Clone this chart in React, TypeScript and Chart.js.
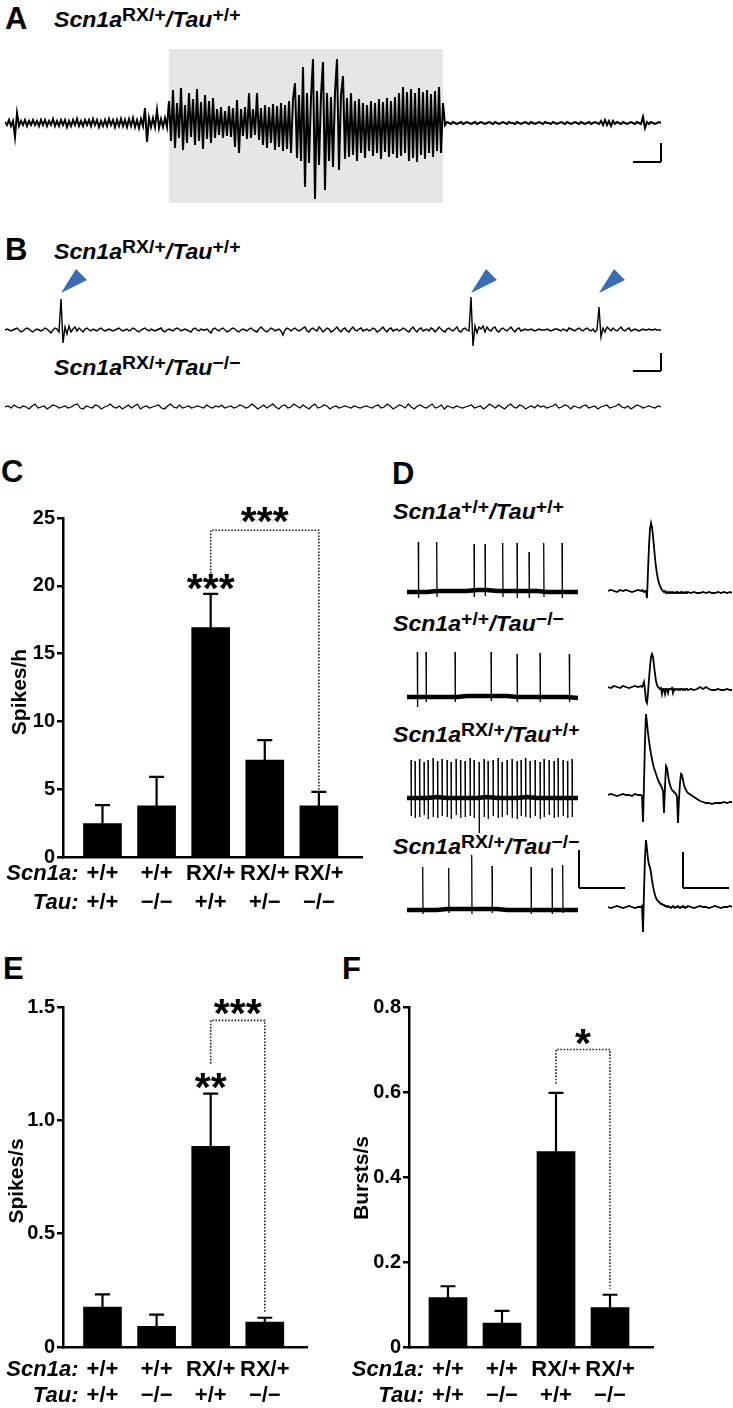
import React, { useEffect, useRef } from 'react';
import { Chart, registerables } from 'chart.js';
Chart.register(...registerables);

const FONT = '"Liberation Sans", Arial, Helvetica, sans-serif';

// ---------- Panel A: EEG trace (sample index, amplitude) ----------
const eegA = [
  1,-2,3,-3,2,-14,10,-3,2,-2,3,-3,2,-2,3,-2,2,-3,3,-2,
  3,-3,2,-2,4,-3,2,-3,3,-2,3,-4,2,-3,3,-2,4,-3,2,-3,
  3,-2,3,-3,4,-2,3,-4,2,-3,3,-3,4,-2,3,-4,3,-3,4,-3,
  3,-4,4,-3,5,-4,3,-5,4,-3,15,-19,5,-4,5,-4,13,-5,4,-4,
  5,-4,
  22,-18,33,-25,20,-15,35,-27,18,-20,30,-14,24,-22,34,-18,21,-26,28,-16,22,-20,25,-15,
  14,-12,16,-15,12,-13,17,-14,15,-24,23,-30,14,-13,16,-16,30,-15,14,-12,30,-17,15,
  -22,18,-25,16,-20,19,-27,17,-24,20,-28,18,-26,22,-30,24,40,-35,
  28,-38,56,-64,30,-40,25,64,-76,32,-42,28,61,-67,30,-38,26,-44,30,64,-47,28,47,-36,
  25,-34,30,-32,22,-38,24,-30,20,-35,18,-28,22,-33,20,-30,24,-36,21,-29,25,-34,22,-31,26,-35,
  30,-33,36,-30,31,-38,34,-35,30,-39,35,-32,31,-36,33,-30,29,-34,32,-28,36,-30,20,
  -2,1,0,-1,1,0,-1,0,1,-1, 0,1,0,-1,0,1,-1,0,1,0, -1,0,1,0,-1,1,0,-1,0,1,
  0,-1,1,0,0,-1,1,0,-1,0, 1,0,-1,1,0,-1,0,1,0,-1, 1,0,0,-1,1,0,-1,0,1,0,
  -1,1,0,-1,0,1,0,-1,1,0, -1,0,1,-1,0,1,0,-1,2,-2, 3,-2,2,-3,2,-1,1,0,-1,1,
  0,-1,0,1,0,-1,1,0,-1,6, -5,1,-1,1,0,-1,0,1,0,
];
const seizureStart = 82;
const seizureEnd = 219;

// ---------- Panel B: interictal traces ----------
const eegB1 = [
  0,1,0,-1,0,1,2,0,-2,-1, 1,2,1,-1,-2,0,1,0,-1,0, 2,1,-1,-3,0,2,1,-2,31,-13,
  3,-4,4,-2,1,3,-1,2,0,-2, 1,2,0,-1,1,0,-1,1,2,0, -1,0,1,0,-1,0,1,2,0,-1,
  0,1,-1,0,2,1,-1,-2,0,1, 2,0,-1,1,0,-1,0,1,2,-1, -2,0,1,0,-1,1,2,1,-1,0,
  1,0,-1,-2,1,2,0,-1,1,0, 0,1,-1,-3,1,2,0,-1,1,2, 0,-2,-1,1,2,1,-1,-2,0,1,
  0,-1,1,2,0,-1,-2,1,3,1, -1,-2,0,2,1,-1,0,1,-1,-5, 0,2,1,-1,1,2,0,-1,0,2,
  3,-1,-2,1,2,0,-1,3,1,-2, 0,2,1,-2,-1,1,3,0,-2,1, 2,-1,-2,1,3,0,-1,1,2,-1,
  0,1,-1,0,2,1,-2,-1,1,3, 0,-2,1,2,-1,0,1,-1,0,2, 1,-1,-2,1,3,0,-2,1,2,-1,
  0,1,-1,2,1,-2,0,3,1,-1, -2,1,2,0,-1,1,3,-1,-2,1, 2,0,-1,33,-16,4,-3,3,1,4,
  -2,3,0,-1,2,3,-1,-2,1,2, 0,-1,1,3,0,-2,1,2,-1,0, 1,0,0,1,0,-1,0,1,0,0,
  0,1,0,-1,0,1,1,0,-1,1, 0,-1,2,1,0,-1,1,2,0,-1, 1,2,0,-1,1,-2,0,23,-7,2,
  -2,3,1,-1,2,0,-1,1,3,0, -1,1,2,-1,0,1,0,-1,0,1, 0,0,1,0,0,1,0,0,0,
];
const spikesB1 = [28, 233, 297];
const eegB2 = [
  0,1,-1,2,0,-1,1,0,-2,1,3,-1,0,1,-2,0,2,1,-1,0,
  1,-1,0,2,3,-1,-2,1,0,-1,2,1,-2,0,1,3,0,-1,1,-2,
  0,2,-1,1,3,-2,0,1,-1,0,1,2,-1,-2,1,3,0,-1,2,-1,
  0,1,-1,0,1,0,-1,2,0,-1,1,0,2,-1,0,1,-1,0,2,1,
  -1,0,3,1,-2,0,2,-1,1,3,0,-2,1,2,-1,0,3,1,-1,2,
  0,-2,1,3,-1,0,2,1,-2,0,1,-1,0,1,0,-1,1,0,-1,0,
  1,0,-1,1,2,-1,0,3,1,-2,0,2,1,-1,3,0,-2,1,2,0,
  -1,1,3,-1,0,2,-2,1,0,-1,1,0,-1,0,1,2,-1,0,1,-2,
  0,3,1,-1,2,0,-2,1,3,0,-1,2,1,-2,0,1,-1,2,0,1,
  -1,0,1,3,-1,0,2,1,-2,1,0,-1,1,2,-1,0,1,-2,0,1,
  2,-1,0,1,3,0,-1,1,-2,0,2,1,-1,0,1,0,-1,1,0,
];

// ---------- Panel C ----------
const scn1aC = ['+/+', '+/+', 'RX/+', 'RX/+', 'RX/+'];
const tauC = ['+/+', '\u2212/\u2212', '+/+', '+/\u2212', '\u2212/\u2212'];
const spikesPerHour = [2.46, 3.77, 16.92, 7.14, 3.77];
const spikesPerHourSem = [1.36, 2.14, 2.49, 1.48, 1.03];

// ---------- Panel D: firing traces ----------
const dBaseT = [0, 10, 20, 30, 40, 50, 60, 70, 80, 90, 100, 110, 120, 130, 140, 150, 160, 171];
const dBase1 = [0, 0, 0, 1, 1, 1, 1, 2, 2, 1, 1, 1, 1, 1, 0, 0, 0, 0];
const dBase2 = [0, 0, 0, 0, 0, 0, 1, 1, 1, 1, 1, 0, 0, 0, 0, 0, 0, -1];
const dBase3 = [0, 0, 0, 1, 0, 0, 0, 0, 1, 0, 0, 0, 1, 0, 0, 0, 0, 0];
const dBase4 = [0, 0, 0, 0, 1, 1, 1, 1, 1, 1, 0, 0, 0, 0, 0, 0, 0, 0];
const dSpikeT1 = [11.3, 29.7, 67, 78, 95.7, 110, 122, 136.7, 155];
const dSpikeUp1 = [50, 50, 48, 48, 49, 49, 40, 49, 49];
const dSpikeDown1 = [-6, -5, -5, -4, -5, -6, -6, -5, -6];
const dSpikeT2 = [10.3, 19, 48, 84, 110, 133, 162.3];
const dSpikeUp2 = [45, 45, 45, 45, 43, 44, 43];
const dSpikeDown2 = [-10, -5, -5, -4, -5, -5, -5];
const dSpikeT3 = [4, 8, 12.5, 17, 21, 26, 30.5, 35, 40, 44, 49, 53.5, 58, 63, 67, 72, 77, 81, 86, 91, 95, 100, 105, 110, 114, 118.5, 123, 128, 133, 137, 142, 147, 151, 156, 160.5, 165];
const dSpikeUp3 = [38, 37, 39, 36, 38, 40, 37, 39, 38, 36, 39, 38, 37, 40, 38, 36, 39, 37, 38, 40, 36, 38, 39, 37, 38, 40, 37, 38, 36, 39, 38, 37, 40, 38, 37, 39];
const dSpikeDown3 = [-18, -20, -19, -17, -21, -19, -20, -18, -19, -21, -17, -20, -19, -18, -20, -35, -19, -21, -18, -20, -19, -17, -20, -21, -18, -19, -20, -18, -21, -19, -17, -20, -19, -18, -20, -19];
const dSpikeT4 = [15.7, 41.7, 64.7, 85, 124, 145, 155.7];
const dSpikeUp4 = [43, 42, 55, 44, 43, 42, 45];
const dSpikeDown4 = [-4, -3, -4, -3, -4, -4, -3];

const apT = [0,3,6,9,12,15,18,21,24,27,30,33,34,35,36,37,38,39,40,41,42,43,44,45,46,47,48,49,50,51,52,53,54,55,56,57,58,59,60,61,62,63,64,65,66,67,68,69,70,71,72,73,74,75,76,77,78,79,80,83,86,89,92,95,98,101,104,107,110,113,116,119,122,124];
const ap1 = [0,1,0,-1,1,0,1,0,-1,0,1,
  0,1,0,-1,0,0,-7,20,45,62, 68,64,55,44,33,24,17,12,8,5, 3,1,0,-1,0,-2,-1,-2,-1,-2, -1,-2,-1,-2,-2,-1,-2,-1,-2,-2, -1,-2,-1,-2,-2,-1,-2,-1,
  -2,-1,-2,-2,-1,-2,-1,-2,-2,-1,-2,-1,-2,-1,-2];
const ap2 = [0,-1,1,0,-1,1,0,-1,0,1,0,
  1,0,2,5,-3,-14,-16,-6,8,20, 30,33,30,22,13,6,2,0,-1,-2, -1,-7,-2,-2,-7,-2,-2,-6,-2,-2, -2,-1,-6,-2,-3,-2,-2,-3,-2,-3, -2,-2,-3,-2,-3,-2,-2,-3,
  -2,-3,-2,0,-2,0,-2,-3,-3,-2,-3,-3,-2,-3,-3];
const ap3 = [0,1,0,-1,0,1,0,0,-1,1,0,
  0,-1,-27,12,55,81,72,62,54,47, 41,36,31,27,24,21,18,15,13,11, 9,7,4,-18,8,29,27,20,14,10, 7,5,4,3,2,1,-2,-28,-4,12, 21,20,15,10,7,5,3,2,
  0,-2,-4,-6,-7,-8,-8,-9,-8,-8,-8,-7,-8,-7,-7];
const ap4 = [0,-1,0,1,0,-1,0,1,0,-1,0,
  0,1,-25,15,50,67,58,48,42,40, 34,27,21,16,12,9,7,6,5,4, 3,3,2,2,1,1,0,1,0,0, -1,0,1,0,-1,0,0,1,0,-1, 0,0,1,0,-1,0,0,1,
  0,-1,0,1,0,0,-1,0,1,0,-1,0,0,1,0];

// ---------- Panels E, F ----------
const scn1aEF = ['+/+', '+/+', 'RX/+', 'RX/+'];
const tauEF = ['+/+', '\u2212/\u2212', '+/+', '\u2212/\u2212'];
const spikesPerSec = [0.176, 0.091, 0.885, 0.110];
const spikesPerSecSem = [0.056, 0.052, 0.233, 0.019];
const burstsPerSec = [0.116, 0.056, 0.460, 0.093];
const burstsPerSecSem = [0.027, 0.029, 0.138, 0.030];

// ---------- helpers ----------
type Cfg = any;

function ChartBox({ left, top, width, height, make }: { left: number; top: number; width: number; height: number; make: () => Cfg }) {
  const ref = useRef<HTMLCanvasElement>(null);
  useEffect(() => {
    const chart = new Chart(ref.current as HTMLCanvasElement, make());
    return () => chart.destroy();
  }, []);
  return (
    <canvas
      ref={ref}
      width={width}
      height={height}
      style={{ position: 'absolute', left, top, width, height }}
    />
  );
}

function lineSet(points: any[], width: number) {
  return {
    data: points,
    borderColor: '#000',
    borderWidth: width,
    pointRadius: 0,
    tension: 0,
    spanGaps: false,
    fill: false,
  };
}

function scaleBar(opts: { xv: number; x0: number; x1: number; y0: number; y1: number }) {
  return {
    id: 'scaleBar',
    afterDraw(chart: any) {
      const { ctx, scales } = chart;
      const X = (v: number) => scales.x.getPixelForValue(v);
      const Y = (v: number) => scales.y.getPixelForValue(v);
      ctx.save();
      ctx.strokeStyle = '#000';
      ctx.lineWidth = 2;
      ctx.beginPath();
      ctx.moveTo(X(opts.xv), Y(opts.y1));
      ctx.lineTo(X(opts.xv), Y(opts.y0));
      ctx.moveTo(X(opts.x0), Y(opts.y0));
      ctx.lineTo(X(opts.x1), Y(opts.y0));
      ctx.stroke();
      ctx.restore();
    },
  };
}

function traceConfig(datasets: any[], x: [number, number], y: [number, number], pad: any, plugins: any[] = []): Cfg {
  return {
    type: 'line',
    data: { datasets },
    options: {
      animation: false,
      responsive: false,
      events: [],
      layout: { padding: pad },
      plugins: { legend: { display: false }, tooltip: { enabled: false } },
      scales: {
        x: { type: 'linear', display: false, min: x[0], max: x[1], offset: false },
        y: { type: 'linear', display: false, min: y[0], max: y[1] },
      },
    },
    plugins,
  };
}

const idxPoints = (arr: number[]) => arr.map((v, i) => ({ x: i, y: v }));

function dLeftSets(base: number[], st: number[], up: number[], down: number[]) {
  const spikes: any[] = [];
  st.forEach((t, i) => {
    spikes.push({ x: t, y: up[i] }, { x: t + 0.3, y: down[i] }, { x: t + 0.31, y: null });
  });
  const baseline = dBaseT.map((t, i) => ({ x: t, y: base[i] }));
  return [lineSet(spikes, 1.3), lineSet(baseline, 4.5)];
}

const apSet = (vals: number[]) => [lineSet(apT.map((t, i) => ({ x: t, y: vals[i] })), 1.8)];

type Sig = {
  over: { bar: number; y: number; text: string }[];
  bracket: { from: number; to: number; yFrom: number; yTop: number; yTo: number; text: string; textY: number };
};

function barConfig(p: {
  values: number[]; sems: number[]; scn1a: string[]; tau: string[];
  yMax: number; yStep: number; fmt: (v: number) => string;
  xMin: number; xMax: number; yAxisW: number; pad: any; xAxisH: number;
  title: string; titleX: number; titleY: number; row1: number; row2: number; sig: Sig;
}): Cfg {
  const decor = {
    id: 'decor',
    afterDraw(chart: any) {
      const { ctx, scales } = chart;
      const X = (v: number) => scales.x.getPixelForValue(v);
      const Y = (v: number) => scales.y.getPixelForValue(v);
      ctx.save();
      // error bars
      ctx.strokeStyle = '#000';
      ctx.lineWidth = 2.2;
      p.values.forEach((v, i) => {
        const px = X(i + 1);
        const yb = Y(v);
        const yt = Y(v + p.sems[i]);
        ctx.beginPath();
        ctx.moveTo(px, yb);
        ctx.lineTo(px, yt);
        ctx.moveTo(px - 7.5, yt);
        ctx.lineTo(px + 7.5, yt);
        ctx.stroke();
      });
      // bracket
      const b = p.sig.bracket;
      ctx.save();
      ctx.setLineDash([1.6, 1.6]);
      ctx.lineWidth = 1.6;
      ctx.strokeStyle = '#222';
      ctx.beginPath();
      ctx.moveTo(X(b.from), Y(b.yFrom));
      ctx.lineTo(X(b.from), Y(b.yTop));
      ctx.lineTo(X(b.to), Y(b.yTop));
      ctx.lineTo(X(b.to), Y(b.yTo));
      ctx.stroke();
      ctx.restore();
      // stars
      ctx.fillStyle = '#000';
      ctx.font = `bold 41px ${FONT}`;
      ctx.textAlign = 'center';
      ctx.textBaseline = 'alphabetic';
      const star = (text: string, cx: number, cy: number) => {
        const m = ctx.measureText(text);
        const base = cy + (m.actualBoundingBoxAscent - m.actualBoundingBoxDescent) / 2;
        ctx.fillText(text, cx, base);
      };
      p.sig.over.forEach((s) => star(s.text, X(s.bar), Y(s.y)));
      star(b.text, (X(b.from) + X(b.to)) / 2, Y(b.textY));
      // row labels
      ctx.textBaseline = 'middle';
      ctx.textAlign = 'right';
      ctx.font = `italic bold 22px ${FONT}`;
      const hx = X(1) - 24;
      ctx.fillText('Scn1a:', hx, p.row1);
      ctx.fillText('Tau:', hx, p.row2);
      ctx.textAlign = 'center';
      ctx.font = `bold 22px ${FONT}`;
      p.scn1a.forEach((s, i) => ctx.fillText(s, X(i + 1), p.row1));
      p.tau.forEach((s, i) => ctx.fillText(s, X(i + 1), p.row2));
      // y title
      ctx.translate(p.titleX, p.titleY);
      ctx.rotate(-Math.PI / 2);
      ctx.font = `bold 21px ${FONT}`;
      ctx.fillText(p.title, 0, 0);
      ctx.restore();
    },
  };
  return {
    type: 'bar',
    data: {
      datasets: [
        {
          data: p.values.map((v, i) => ({ x: i + 1, y: v })),
          backgroundColor: '#000',
          borderWidth: 0,
          barThickness: 38,
        },
      ],
    },
    options: {
      animation: false,
      responsive: false,
      events: [],
      layout: { padding: p.pad },
      plugins: { legend: { display: false }, tooltip: { enabled: false } },
      scales: {
        x: {
          type: 'linear',
          min: p.xMin,
          max: p.xMax,
          offset: false,
          grid: { display: false, offset: false },
          ticks: { display: false },
          border: { display: true, color: '#000', width: 2.5 },
          afterFit: (s: any) => { s.height = p.xAxisH; },
        },
        y: {
          type: 'linear',
          min: 0,
          max: p.yMax,
          ticks: {
            stepSize: p.yStep,
            color: '#000',
            padding: 2,
            font: { family: FONT, size: 20, weight: 'bold' },
            callback: (v: number) => p.fmt(v),
          },
          grid: { display: true, drawOnChartArea: false, drawTicks: true, tickLength: 6, color: '#000', lineWidth: 2.5 },
          border: { display: true, color: '#000', width: 2.5 },
          afterFit: (s: any) => { s.width = p.yAxisW; },
        },
      },
    },
    plugins: [decor],
  };
}

const fmt1 = (v: number) => (Math.abs(v) < 1e-9 ? '0' : v.toFixed(1));
const fmt0 = (v: number) => String(Math.round(v));

// ---------- text components ----------
function Letter({ ch, x, baseline }: { ch: string; x: number; baseline: number }) {
  const fs = 31;
  return (
    <div style={{ position: 'absolute', left: x, top: baseline - 0.8465 * fs, fontFamily: FONT, fontWeight: 'bold', fontSize: fs, lineHeight: 1 }}>
      {ch}
    </div>
  );
}

function Geno({ x, baseline, s, t }: { x: number; baseline: number; s: string; t: string }) {
  const fs = 22;
  const sup: React.CSSProperties = { fontSize: 18.5, position: 'relative', top: -6, fontStyle: 'normal' };
  return (
    <div
      style={{
        position: 'absolute', left: x, top: baseline - 0.8465 * fs, fontFamily: FONT, fontWeight: 'bold',
        fontSize: fs, lineHeight: 1, whiteSpace: 'nowrap', transform: 'scaleX(1.05)', transformOrigin: '0 0',
      }}
    >
      <i>Scn1a</i>
      <span style={sup}>{s}</span>
      <i>/Tau</i>
      <span style={sup}>{t}</span>
    </div>
  );
}

const MINUS = '\u2212/\u2212';

export default function App() {
  return (
    <div style={{ position: 'absolute', left: 0, top: 0, width: 733, height: 1408, overflow: 'hidden', background: '#fff' }}>
      {/* Panel A */}
      <Letter ch="A" x={5} baseline={29} />
      <Geno x={54} baseline={28} s="RX/+" t="+/+" />
      <ChartBox
        left={0} top={49} width={733} height={154}
        make={() =>
          traceConfig([lineSet(idxPoints(eegA), 2)], [0, eegA.length - 1], [-80, 74], { left: 5, right: 72, top: 0, bottom: 0 }, [
            {
              id: 'seizureBox',
              beforeDatasetsDraw(chart: any) {
                const { ctx, scales, chartArea } = chart;
                const x0 = scales.x.getPixelForValue(seizureStart);
                const x1 = scales.x.getPixelForValue(seizureEnd);
                ctx.save();
                ctx.fillStyle = '#e6e6e6';
                ctx.fillRect(x0, chartArea.top, x1 - x0, chartArea.bottom - chartArea.top);
                ctx.restore();
              },
            },
            scaleBar({ xv: 328, x0: 314, x1: 328, y0: -39, y1: -20 }),
          ])
        }
      />

      {/* Panel B */}
      <Letter ch="B" x={5} baseline={260} />
      <Geno x={54} baseline={260} s="RX/+" t="+/+" />
      <Geno x={54} baseline={376} s="RX/+" t={MINUS} />
      <ChartBox
        left={0} top={262} width={733} height={114}
        make={() =>
          traceConfig([lineSet(idxPoints(eegB1), 1.4)], [0, eegB1.length - 1], [-46, 68], { left: 5, right: 72, top: 0, bottom: 0 }, [
            {
              id: 'arrows',
              afterDraw(chart: any) {
                const { ctx, scales } = chart;
                const tipY = scales.y.getPixelForValue(37);
                ctx.save();
                ctx.fillStyle = '#3b6bb3';
                spikesB1.forEach((i) => {
                  const x = scales.x.getPixelForValue(i);
                  ctx.beginPath();
                  ctx.moveTo(x, tipY);
                  ctx.lineTo(x + 15, tipY - 24);
                  ctx.lineTo(x + 26, tipY - 13);
                  ctx.closePath();
                  ctx.fill();
                });
                ctx.restore();
              },
            },
            scaleBar({ xv: 328, x0: 314, x1: 328, y0: -41, y1: -23 }),
          ])
        }
      />
      <ChartBox
        left={0} top={395} width={733} height={25}
        make={() => traceConfig([lineSet(idxPoints(eegB2), 1.2)], [0, eegB2.length - 1], [-13, 12], { left: 5, right: 72, top: 0, bottom: 0 })}
      />

      {/* Panel C */}
      <Letter ch="C" x={1} baseline={482} />
      <ChartBox
        left={0} top={490} width={370} height={420}
        make={() =>
          barConfig({
            values: spikesPerHour, sems: spikesPerHourSem, scn1a: scn1aC, tau: tauC,
            yMax: 25, yStep: 5, fmt: fmt0, xMin: 0.27, xMax: 5.797, yAxisW: 63,
            pad: { left: 0, right: 8, top: 28, bottom: 0 }, xAxisH: 53,
            title: 'Spikes/h', titleX: 20, titleY: 202, row1: 384, row2: 413,
            sig: {
              over: [{ bar: 3, y: 20.3, text: '***' }],
              bracket: { from: 3, to: 5, yFrom: 20.9, yTop: 24.1, yTo: 4.93, text: '***', textY: 25.25 },
            },
          })
        }
      />

      {/* Panel D */}
      <Letter ch="D" x={392} baseline={484} />
      <Geno x={393} baseline={520} s="+/+" t="+/+" />
      <Geno x={393} baseline={632} s="+/+" t={MINUS} />
      <Geno x={393} baseline={743} s="RX/+" t="+/+" />
      <Geno x={393} baseline={855} s="RX/+" t={MINUS} />
      <ChartBox left={400} top={535} width={230} height={70}
        make={() => traceConfig(dLeftSets(dBase1, dSpikeT1, dSpikeUp1, dSpikeDown1), [0, 171], [-13, 57], { left: 7, right: 52, top: 0, bottom: 0 })} />
      <ChartBox left={400} top={645} width={230} height={70}
        make={() => traceConfig(dLeftSets(dBase2, dSpikeT2, dSpikeUp2, dSpikeDown2), [0, 171], [-18, 52], { left: 7, right: 52, top: 0, bottom: 0 })} />
      <ChartBox left={400} top={750} width={230} height={95}
        make={() => traceConfig(dLeftSets(dBase3, dSpikeT3, dSpikeUp3, dSpikeDown3), [0, 171], [-47, 48], { left: 7, right: 52, top: 0, bottom: 0 })} />
      <ChartBox left={400} top={845} width={230} height={75}
        make={() => traceConfig(dLeftSets(dBase4, dSpikeT4, dSpikeUp4, dSpikeDown4), [0, 171], [-10, 65], { left: 7, right: 52, top: 0, bottom: 0 },
          [scaleBar({ xv: 172, x0: 172, x1: 218, y0: 22, y1: 60 })])} />
      <ChartBox left={605} top={515} width={128} height={90}
        make={() => traceConfig(apSet(ap1), [0, 124], [-14, 76], { left: 3, right: 1, top: 0, bottom: 0 })} />
      <ChartBox left={605} top={645} width={128} height={70}
        make={() => traceConfig(apSet(ap2), [0, 124], [-28, 42], { left: 3, right: 1, top: 0, bottom: 0 })} />
      <ChartBox left={605} top={705} width={128} height={125}
        make={() => traceConfig(apSet(ap3), [0, 124], [-35, 90], { left: 3, right: 1, top: 0, bottom: 0 })} />
      <ChartBox left={605} top={830} width={128} height={110}
        make={() => traceConfig(apSet(ap4), [0, 124], [-33, 77], { left: 3, right: 1, top: 0, bottom: 0 },
          [scaleBar({ xv: 75, x0: 75, x1: 121, y0: 19, y1: 55 })])} />

      {/* Panel E */}
      <Letter ch="E" x={3} baseline={979} />
      <ChartBox
        left={0} top={980} width={320} height={428}
        make={() =>
          barConfig({
            values: spikesPerSec, sems: spikesPerSecSem, scn1a: scn1aEF, tau: tauEF,
            yMax: 1.5, yStep: 0.5, fmt: fmt1, xMin: 0.27, xMax: 4.78, yAxisW: 63,
            pad: { left: 0, right: 13, top: 27, bottom: 0 }, xAxisH: 61,
            title: 'Spikes/s', titleX: 17, titleY: 201, row1: 390, row2: 416,
            sig: {
              over: [{ bar: 3, y: 1.174, text: '**' }],
              bracket: { from: 3, to: 4, yFrom: 1.25, yTop: 1.441, yTo: 0.154, text: '***', textY: 1.5 },
            },
          })
        }
      />

      {/* Panel F */}
      <Letter ch="F" x={342} baseline={979} />
      <ChartBox
        left={330} top={980} width={340} height={428}
        make={() =>
          barConfig({
            values: burstsPerSec, sems: burstsPerSecSem, scn1a: scn1aEF, tau: tauEF,
            yMax: 0.8, yStep: 0.2, fmt: fmt1, xMin: 0.278, xMax: 4.796, yAxisW: 79,
            pad: { left: 0, right: 17, top: 27, bottom: 0 }, xAxisH: 61,
            title: 'Bursts/s', titleX: 32, titleY: 198, row1: 390, row2: 416,
            sig: {
              over: [],
              bracket: { from: 3, to: 4, yFrom: 0.62, yTop: 0.70, yTo: 0.137, text: '*', textY: 0.729 },
            },
          })
        }
      />
    </div>
  );
}
